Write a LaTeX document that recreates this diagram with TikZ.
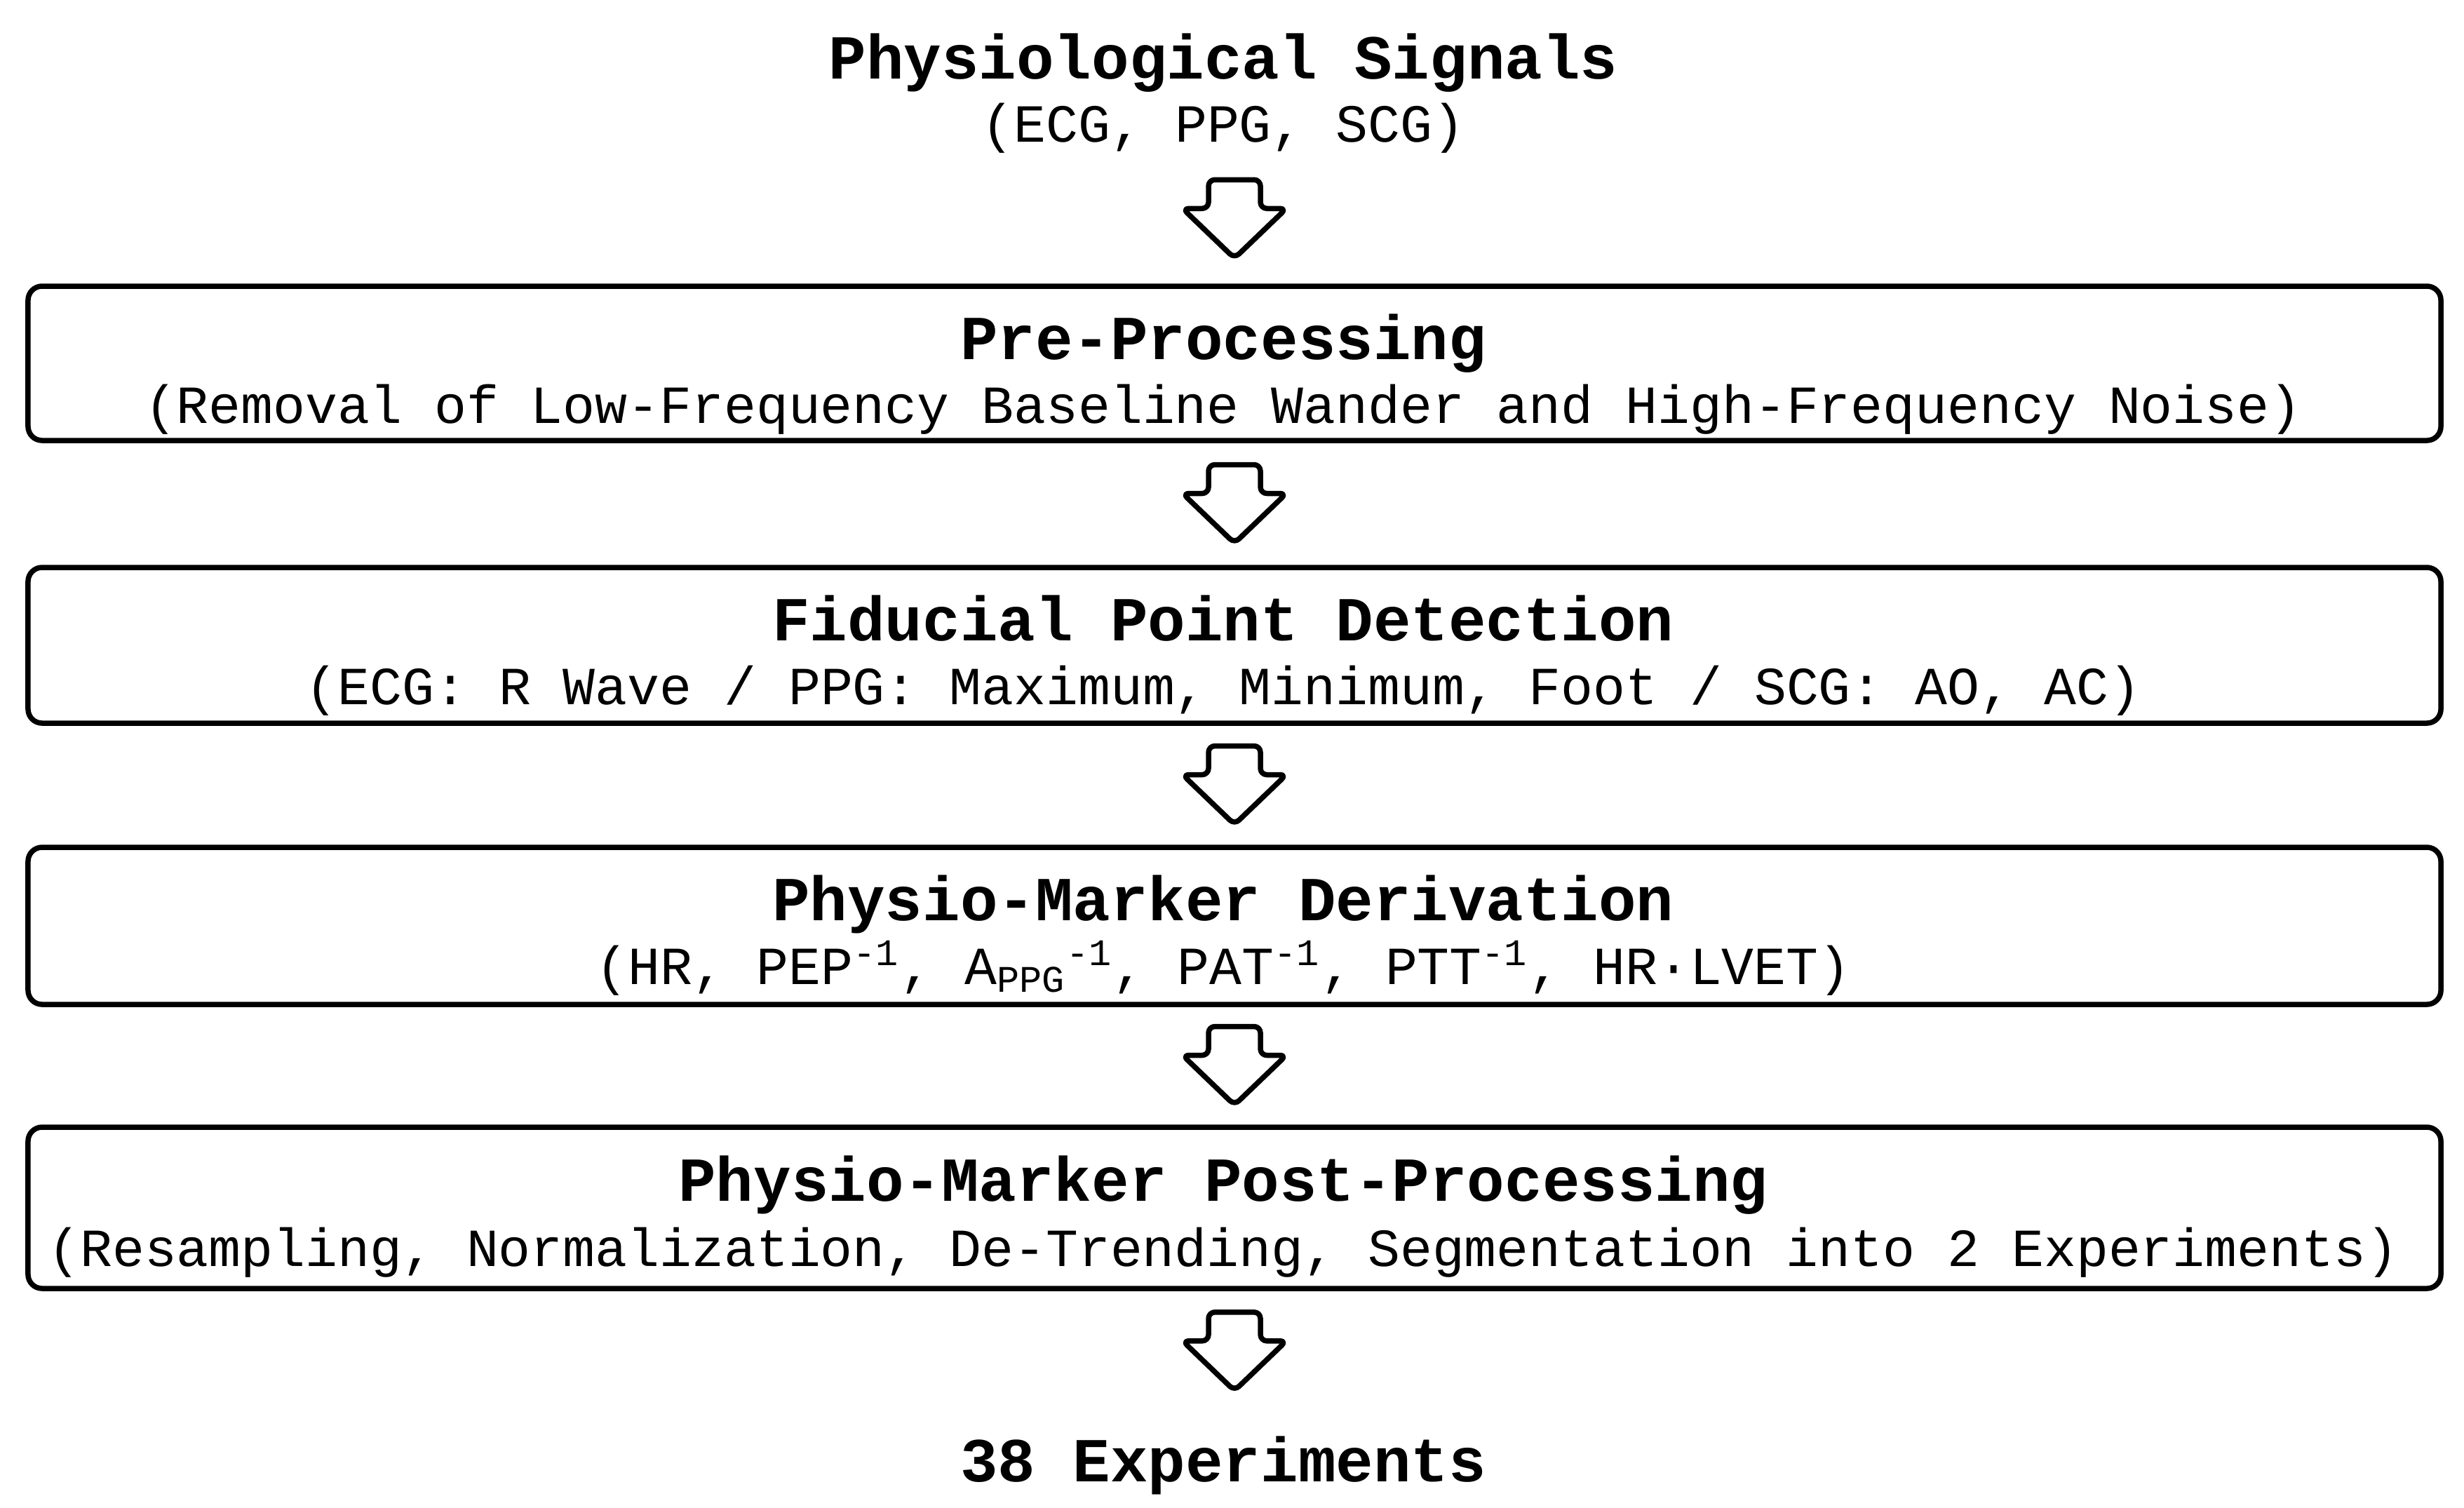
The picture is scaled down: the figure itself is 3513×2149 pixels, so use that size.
\documentclass[tikz,border=0pt]{standalone}
\usepackage{fontspec}
\setmainfont{Liberation Mono}
\usetikzlibrary{calc}
\begin{document}
\begin{tikzpicture}[x=0.2pt,y=-0.2pt,
  box/.style={draw, line width=1.5pt, rounded corners=4pt, minimum width=688pt, inner sep=0pt},
  ttl/.style={anchor=base, inner sep=0pt, font=\bfseries\fontsize{17.85pt}{21pt}\selectfont},
  sub/.style={anchor=base, inner sep=0pt, font=\fontsize{15.3pt}{18pt}\selectfont},
  blockarrow/.pic={\draw[line width=1.5pt, rounded corners=1.8pt, line join=round]
    (0,-56) -- (37,-56) -- (37,-15) -- (74,-15) -- (0,56) -- (-74,-15) -- (-37,-15) -- (-37,-56) -- cycle;}]
\useasboundingbox (0,0) rectangle (3513,2149);

\node[ttl] (h1) at (1744,112) {Physiological Signals};
\node[sub] (h2) at (1744,202) {(ECG, PPG, SCG)};

\node[box, minimum height=44pt] (b1) at (1760,518) {};
\node[ttl] (b1t) at (1744,512) {Pre-Processing};
\node[sub] (b1s) at (1744,603) {(Removal of Low-Frequency Baseline Wander and High-Frequency Noise)};

\node[box, minimum height=44.4pt] (b2) at (1760,920) {};
\node[ttl] (b2t) at (1744,913) {Fiducial Point Detection};
\node[sub] (b2s) at (1744,1004) {(ECG: R Wave / PPG: Maximum, Minimum, Foot / SCG: AO, AC)};

\node[box, minimum height=44.8pt] (b3) at (1760,1320) {};
\node[ttl] (b3t) at (1744,1312) {Physio-Marker Derivation};
\node[sub] (b3s) at (1744,1403) {(HR, PEP\textsuperscript{-1}, A\textsubscript{PPG}\textsuperscript{-1}, PAT\textsuperscript{-1}, PTT\textsuperscript{-1}, HR·LVET)};

\node[box, minimum height=46pt] (b4) at (1760,1722) {};
\node[ttl] (b4t) at (1744,1712) {Physio-Marker Post-Processing};
\node[sub] (b4s) at (1744,1805) {(Resampling, Normalization, De-Trending, Segmentation into 2 Experiments)};

\node[ttl] (e) at (1744,2112) {38 Experiments};

\pic at ($(b1.north)+(0,-92)$) {blockarrow};
\pic at ($(b1.south)!0.5!(b2.north)$) {blockarrow};
\pic at ($(b2.south)!0.5!(b3.north)$) {blockarrow};
\pic at ($(b3.south)!0.5!(b4.north)$) {blockarrow};
\pic at ($(b4.south)+(0,86)$) {blockarrow};
\end{tikzpicture}
\end{document}
